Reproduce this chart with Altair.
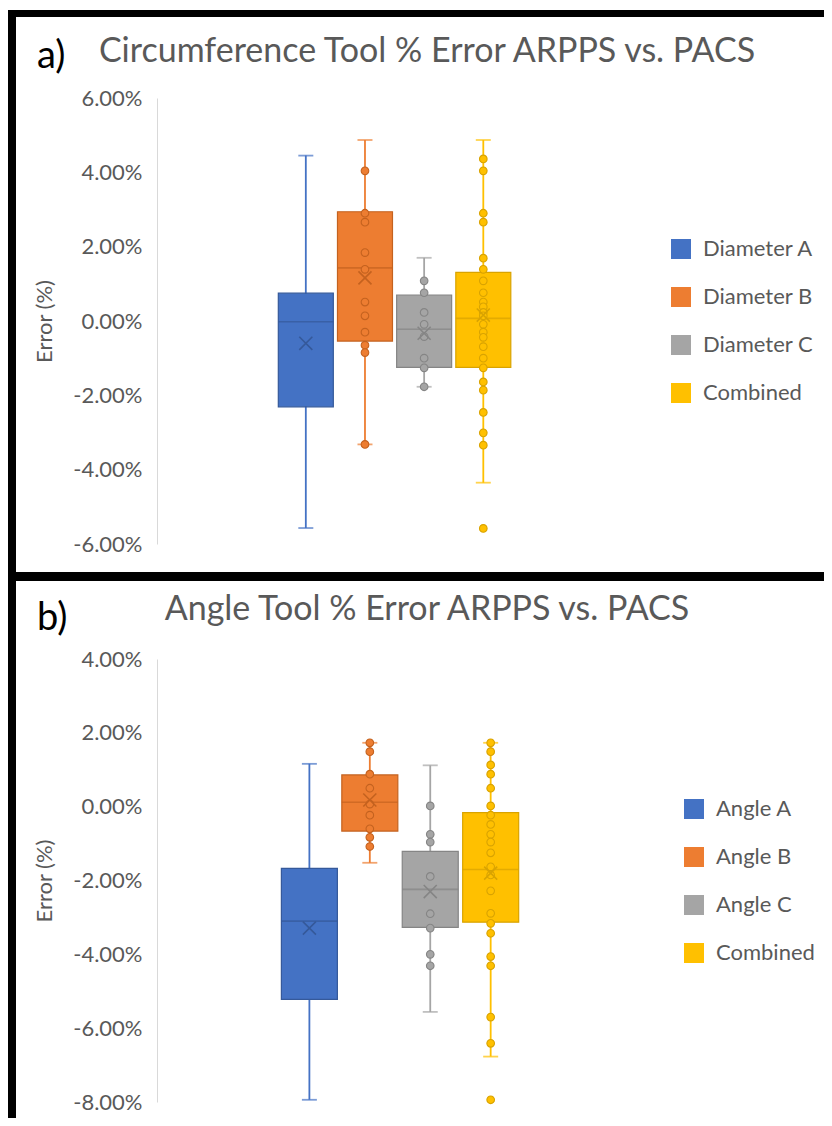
import altair as alt
import pandas as pd

# ---------------- data (values in percent) ----------------
SERIES_A = ["Diameter A", "Diameter B", "Diameter C", "Combined"]
SERIES_B = ["Angle A", "Angle B", "Angle C", "Combined"]
COLORS = ["#4472C4", "#ED7D31", "#A5A5A5", "#FFC000"]
DARKS = ["#35599A", "#C4621F", "#858585", "#D9A300"]

# Panel a: Circumference tool
A_LO = [-5.57, -3.32, -1.77, -4.35]
A_Q1 = [-2.31, -0.54, -1.25, -1.25]
A_MED = [-0.02, 1.43, -0.22, 0.07]
A_Q3 = [0.75, 2.94, 0.70, 1.31]
A_HI = [4.45, 4.87, 1.70, 4.87]
A_MEAN = [-0.60, 1.16, -0.33, 0.16]
A_PTS_A = []
A_PTS_B = [4.04, 2.90, 2.66, 1.84, 1.39, 0.51, 0.14, -0.30, -0.65, -0.85, -3.32]
A_PTS_C = [1.08, 0.76, 0.23, -0.09, -0.42, -1.00, -1.26, -1.77]
A_PTS_COMB = [4.36, 4.04, 2.90, 2.66, 1.69, 1.39, 1.08, 0.76, 0.51, 0.38, 0.23,
              0.14, -0.09, -0.30, -0.44, -0.69, -1.00, -1.26, -1.64, -1.86,
              -2.46, -3.01, -3.34, -5.58]

# Panel b: Angle tool
B_LO = [-7.94, -1.52, -5.56, -6.77]
B_Q1 = [-5.22, -0.66, -3.27, -3.13]
B_MED = [-3.10, 0.12, -2.24, -1.70]
B_Q3 = [-1.67, 0.86, -1.21, -0.16]
B_HI = [1.16, 1.73, 1.12, 1.73]
B_MEAN = [-3.29, 0.18, -2.30, -1.80]
B_PTS_A = []
B_PTS_B = [1.73, 1.49, 0.88, 0.50, 0.07, -0.23, -0.60, -0.83, -1.08]
B_PTS_C = [0.02, -0.75, -0.96, -1.89, -2.90, -3.29, -4.00, -4.31]
B_PTS_COMB = [1.73, 1.49, 1.13, 0.88, 0.50, 0.02, -0.23, -0.48, -0.75, -0.96,
              -1.25, -1.63, -1.85, -2.28, -2.89, -3.16, -3.43, -4.06, -4.31,
              -5.70, -6.41, -7.94]

A_TICKS = [-6, -4, -2, 0, 2, 4, 6]
B_TICKS = [-8, -6, -4, -2, 0, 2, 4]

FONT = "Lato"
GREY_TEXT = "#595959"
X_SHAPE = "M-1,-1L1,1M-1,1L1,-1"
LABEL_EXPR = "(datum.value < 0 ? '-' : '') + format(abs(datum.value), '.2f') + '%'"


def panel(series, lo, q1, med, q3, hi, mean, pts_lists, ticks, width, height,
          xdomain, box_w, legend_x, legend_y, tag, tag_y, title, title_y,
          frame):
    pos = list(range(len(series)))
    summ = pd.DataFrame({"series": series, "pos": pos, "lo": lo, "q1": q1,
                         "med": med, "q3": q3, "hi": hi, "mean": mean})
    rows = []
    for s, p, vals in zip(series, pos, pts_lists):
        for v in vals:
            rows.append({"series": s, "pos": p, "value": v})
    pts = pd.DataFrame(rows, columns=["series", "pos", "value"])
    deco = pd.DataFrame({"k": [0]})

    xenc = alt.X("pos:Q", axis=None,
                 scale=alt.Scale(domain=xdomain, nice=False, zero=False))
    yscale = alt.Scale(domain=[ticks[0], ticks[-1]], nice=False, zero=False)
    yaxis = alt.Axis(values=ticks, labelExpr=LABEL_EXPR, grid=False, ticks=False,
                     domainColor="#D9D9D9", domainWidth=1, labelPadding=15,
                     labelFontSize=22, labelColor=GREY_TEXT, labelFont=FONT,
                     title="Error (%)", titleFont=FONT, titleFontSize=22,
                     titleFontWeight="normal", titleColor=GREY_TEXT,
                     titleX=-113, titleY=height / 2, titleAngle=270,
                     titleAlign="center", titleBaseline="middle")

    def Y(field):
        return alt.Y(f"{field}:Q", scale=yscale, axis=yaxis)

    light = alt.Scale(domain=series, range=COLORS)
    dark = alt.Scale(domain=series, range=DARKS)

    base = alt.Chart(summ)
    whisk = base.mark_rule(strokeWidth=1.8).encode(
        x=xenc, y=Y("lo"), y2="hi",
        stroke=alt.Stroke("series:N", scale=light, legend=None))
    cap_lo = base.mark_tick(size=15, thickness=1.8, orient="horizontal").encode(
        x=xenc, y=Y("lo"), fill=alt.Fill("series:N", scale=light, legend=None))
    cap_hi = base.mark_tick(size=15, thickness=1.8, orient="horizontal").encode(
        x=xenc, y=Y("hi"), fill=alt.Fill("series:N", scale=light, legend=None))
    box = base.mark_bar(strokeWidth=1.2, width=box_w).encode(
        x=xenc, y=Y("q1"), y2="q3",
        color=alt.Color("series:N", scale=light,
                        legend=alt.Legend(orient="none", legendX=legend_x,
                                          legendY=legend_y, title=None,
                                          symbolType="square", symbolSize=400,
                                          symbolStrokeWidth=0,
                                          labelFontSize=22, labelFont=FONT,
                                          labelColor=GREY_TEXT, rowPadding=26,
                                          labelOffset=11, padding=0)),
        stroke=alt.Stroke("series:N", scale=dark, legend=None))
    median = base.mark_tick(thickness=1.6, size=box_w, orient="horizontal").encode(
        x=xenc, y=Y("med"), fill=alt.Fill("series:N", scale=dark, legend=None))
    points = alt.Chart(pts).mark_point(shape="circle", filled=True, size=58,
                                       strokeWidth=1.1, opacity=1).encode(
        x=xenc, y=Y("value"),
        fill=alt.Fill("series:N", scale=light, legend=None),
        stroke=alt.Stroke("series:N", scale=dark, legend=None))
    mean_x = base.mark_point(shape=X_SHAPE, filled=False, size=170,
                             strokeWidth=1.6, opacity=1).encode(
        x=xenc, y=Y("mean"),
        stroke=alt.Stroke("series:N", scale=dark, legend=None))

    dchart = alt.Chart(deco)
    tag_t = dchart.mark_text(font=FONT, fontSize=38, color="black", align="left",
                             baseline="alphabetic").encode(
        x=alt.value(-120), y=alt.value(tag_y), text=alt.value(tag))
    title_t = dchart.mark_text(font=FONT, fontSize=34, color=GREY_TEXT,
                               align="center", baseline="alphabetic").encode(
        x=alt.value(270), y=alt.value(title_y), text=alt.value(title))
    frame_layers = []
    for (fx, fx2, fy, fy2) in frame:
        frame_layers.append(
            dchart.mark_rect(color="black", strokeWidth=0).encode(
                x=alt.value(fx), x2=alt.value(fx2),
                y=alt.value(fy), y2=alt.value(fy2)))

    return alt.layer(whisk, cap_lo, cap_hi, box, median, points, mean_x,
                     tag_t, title_t, *frame_layers).resolve_scale(
        stroke="independent", fill="independent").properties(
        width=width, height=height)


# black frame bars (x, x2, y, y2), plot-relative pixel decoration
FRAME_A = [(-149, 667, -88, -81),
           (-149, -141, -88, 483),
           (-149, 667, 474, 483)]
FRAME_B = [(-149, -141, -87, 459)]

pa = panel(SERIES_A, A_LO, A_Q1, A_MED, A_Q3, A_HI, A_MEAN,
           [A_PTS_A, A_PTS_B, A_PTS_C, A_PTS_COMB], A_TICKS, 475, 446,
           [-2.431, 5.429], 55, 513, 140, "a)", -30,
           "Circumference Tool % Error ARPPS vs. PACS", -36, FRAME_A)
pb = panel(SERIES_B, B_LO, B_Q1, B_MED, B_Q3, B_HI, B_MEAN,
           [B_PTS_A, B_PTS_B, B_PTS_C, B_PTS_COMB], B_TICKS, 486, 443,
           [-2.439, 5.438], 56, 526, 139, "b)", -29,
           "Angle Tool % Error ARPPS vs. PACS", -39, FRAME_B)

chart = alt.vconcat(pa, pb, spacing=115, bounds="flush").resolve_scale(
    color="independent", fill="independent", stroke="independent",
    x="independent", y="independent").configure_view(
    stroke=None).properties(
    padding={"left": 0, "top": 2, "right": 0, "bottom": 0},
    background="white")

chart.save("out.html", embed_options={"renderer": "svg", "actions": False})
